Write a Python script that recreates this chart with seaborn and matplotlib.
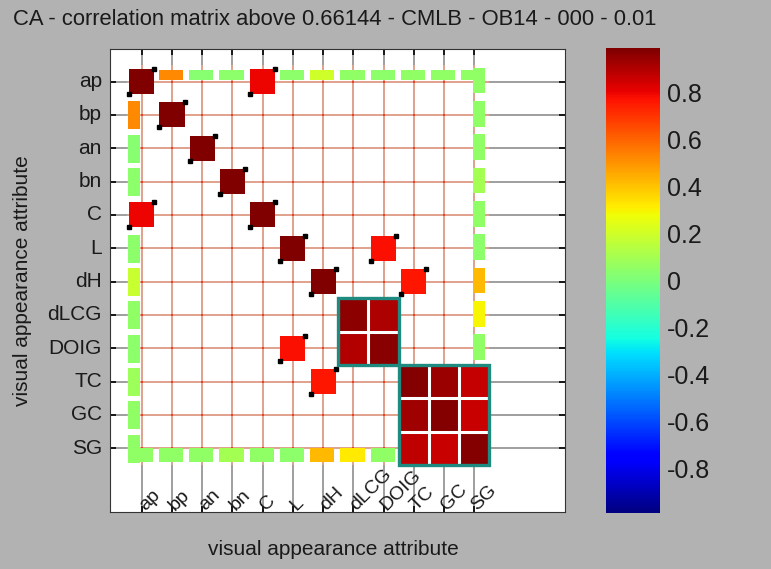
import numpy as np
import pandas as pd
import matplotlib
matplotlib.use('Agg')
import matplotlib.pyplot as plt
from matplotlib.patches import Rectangle
import seaborn as sns

sns.set_style('white')
plt.rcParams['font.family'] = ['Liberation Sans', 'DejaVu Sans']

# attributes on both axes
attributes = ['ap', 'bp', 'an', 'bn', 'C', 'L', 'dH', 'dLCG', 'DOIG', 'TC', 'GC', 'SG']
threshold = 0.66144
title = 'CA - correlation matrix above 0.66144 - CMLB - OB14 - 000 - 0.01'

# correlations (nan = hidden, below threshold)
n = np.nan
corr_rows = [
    [0.99, 0.52, 0.03, 0.04, 0.80, 0.04, 0.20, 0.05, 0.04, 0.05, 0.05, 0.05],
    [0.52, 0.99, n, n, n, n, n, n, n, n, n, 0.05],
    [0.03, n, 0.99, n, n, n, n, n, n, n, n, 0.05],
    [0.04, n, n, 0.99, n, n, n, n, n, n, n, 0.10],
    [0.80, n, n, n, 0.99, n, n, n, n, n, n, 0.05],
    [0.04, n, n, n, n, 0.99, n, n, 0.78, n, n, 0.04],
    [0.18, n, n, n, n, n, 0.99, n, n, 0.76, n, 0.42],
    [0.05, n, n, n, n, n, n, 0.96, 0.91, n, n, 0.30],
    [0.04, n, n, n, n, 0.78, n, 0.90, 0.97, n, n, 0.05],
    [0.08, n, n, n, n, n, 0.76, n, n, 0.98, 0.94, 0.87],
    [0.05, n, n, n, n, n, n, n, n, 0.93, 0.98, 0.86],
    [0.05, 0.05, 0.05, 0.10, 0.05, 0.04, 0.42, 0.32, 0.05, 0.88, 0.86, 0.98],
]
groups = [['dLCG', 'DOIG'], ['TC', 'GC', 'SG']]

cbar_ticks = [-0.8, -0.6, -0.4, -0.2, 0, 0.2, 0.4, 0.6, 0.8]
cbar_labels = ['-0.8', '-0.6', '-0.4', '-0.2', '0', '0.2', '0.4', '0.6', '0.8']
clim = 0.99

corr = pd.DataFrame(corr_rows, index=attributes, columns=attributes)
k = len(attributes)
pos = {a: i for i, a in enumerate(attributes)}
in_block = np.zeros((k, k), dtype=bool)
for g in groups:
    ids = [pos[a] for a in g]
    for a in ids:
        for b in ids:
            in_block[a, b] = True

fig = plt.figure(figsize=(7.71, 5.69), dpi=100)
fig.patch.set_facecolor('#b2b2b2')
ax = fig.add_axes([0.1427, 0.1002, 0.590, 0.8137])
cax = fig.add_axes([0.786, 0.0984, 0.070, 0.817])

# clustered blocks via seaborn heatmap (everything else masked)
sns.heatmap(corr, mask=~in_block, cmap='jet', vmin=-clim, vmax=clim,
            linewidths=0, ax=ax, cbar_ax=cax)

cmap = plt.get_cmap('jet')
norm = plt.Normalize(-clim, clim)
centers = np.arange(k) + 0.5

# grid lines: gray outside, salmon inside the matrix
ax.vlines(centers, -1, k + 2, color='#8e8e8e', lw=1.2, zorder=0.5)
ax.hlines(centers, -1, k + 3, color='#8e8e8e', lw=1.2, zorder=0.5)
ax.vlines(centers, 0, k, color='#f4a48c', lw=1.1, zorder=0.6)
ax.hlines(centers, 0, k, color='#f4a48c', lw=1.1, zorder=0.6)
xx, yy = np.meshgrid(centers, centers)
ax.scatter(xx.ravel(), yy.ravel(), marker='s', s=4, color='#f04020', linewidths=0, zorder=0.7)


def box(x0, x1, y0, y1, v):
    ax.add_patch(Rectangle((x0, y0), x1 - x0, y1 - y0, facecolor=cmap(norm(v)),
                           edgecolor='none', zorder=2))


for i in range(k):
    for j in range(k):
        v = corr.iat[i, j]
        if np.isnan(v) or in_block[i, j]:
            continue
        if v >= threshold:
            box(j + 0.085, j + 0.915, i + 0.125, i + 0.875, v)
            ax.plot([j + 0.085, j + 0.915], [i + 0.875, i + 0.125], 's', ms=2.5,
                    color='black', zorder=3)
            continue
        if i == 0:
            box(j + 0.07, j + 0.87, i + 0.14, i + 0.46, v)
        if i == k - 1:
            box(j + 0.07, j + 0.87, i + 0.5, i + 0.92, v)
        if j == 0:
            box(j + 0.04, j + 0.44, i + 0.09, i + 0.93, v)
        if j == k - 1:
            box(j + 0.46, j + 0.86, i + 0.08, i + 0.85, v)

# white gaps and teal frames around the clusters
for g in groups:
    s = pos[g[0]]
    e = pos[g[-1]] + 1
    inner = np.arange(s + 1, e)
    ax.vlines(inner, s, e, color='white', lw=2.2, zorder=3)
    ax.hlines(inner, s, e, color='white', lw=2.2, zorder=3)
    ax.add_patch(Rectangle((s, s), e - s, e - s, fill=False, edgecolor='#1f8a80',
                           lw=2.4, zorder=4))

ax.set_xlim(-0.55, 14.5)
ax.set_ylim(13.41, -0.48)
for sp in ax.spines.values():
    sp.set_visible(True)
    sp.set_color('#333333')
    sp.set_linewidth(0.8)

ax.set_xticks(centers)
ax.set_xticklabels(attributes, rotation=45, ha='left', va='center',
                   rotation_mode='anchor', fontsize=14)
ax.set_yticks(centers)
ax.set_yticklabels(attributes, rotation=0, va='center', fontsize=15)
ax.tick_params(direction='in', length=4, width=1.2, color='black', labelcolor='#1a1a1a',
               top=True, right=True, bottom=True, left=True)
ax.tick_params(axis='x', pad=-3.2)
ax.tick_params(axis='y', pad=5.8)

ax.set_xlabel('visual appearance attribute', fontsize=15, color='#1a1a1a')
ax.xaxis.set_label_coords(0.49, -0.06)
ax.set_ylabel('visual appearance attribute', fontsize=15, color='#1a1a1a')
ax.yaxis.set_label_coords(-0.171, 0.5)

fig.text(0.017, 0.965, title, fontsize=15.8, ha='left', va='center', color='#1a1a1a')

cax.set_yticks(cbar_ticks)
cax.set_yticklabels(cbar_labels)
cax.tick_params(axis='y', direction='in', left=True, right=True, length=4, width=1.5,
                color='black', labelsize=18, labelcolor='#1a1a1a', pad=5)

fig.savefig('out.png', dpi=100, facecolor=fig.get_facecolor())
